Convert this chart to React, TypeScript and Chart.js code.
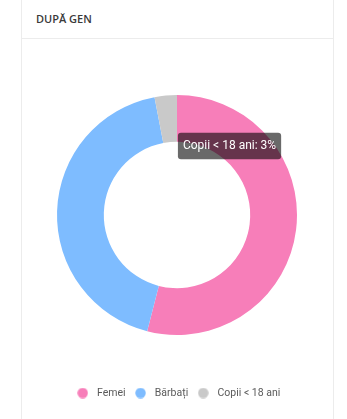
import React, { useEffect, useRef } from "react";
import { Chart, registerables, Tooltip } from "chart.js";

Chart.register(...registerables);

const categories = ["Femei", "Bărbați", "Copii < 18 ani"];
const values = [54, 43, 3];
const colors = ["#f77eb9", "#7ebcff", "#c9c9c9"];
const title = "DUPĂ GEN";
const tooltipIndex = 2;

(Tooltip.positioners as any).offsetArc = function (elements: any[]) {
  if (!elements.length) return false;
  const p = elements[0].element.tooltipPosition(true);
  return { x: p.x + 13, y: p.y + 14, xAlign: "left", yAlign: "top" };
};

function makeDot(color: string) {
  const c = document.createElement("canvas");
  c.width = 11;
  c.height = 11;
  const ctx = c.getContext("2d")!;
  ctx.fillStyle = color;
  ctx.beginPath();
  ctx.arc(5.5, 5.5, 5.2, 0, Math.PI * 2);
  ctx.fill();
  return c;
}

export default function App() {
  const ref = useRef<HTMLCanvasElement>(null);

  useEffect(() => {
    if (!ref.current) return;
    Chart.defaults.font.family = "Roboto";
    const dots = colors.map(makeDot);
    const chart = new Chart(ref.current, {
      type: "doughnut",
      data: {
        labels: categories,
        datasets: [
          {
            data: values,
            backgroundColor: colors,
            hoverBackgroundColor: colors,
            borderWidth: 0,
            hoverOffset: 0,
            offset: 0,
          },
        ],
      },
      options: {
        animation: false,
        responsive: true,
        maintainAspectRatio: false,
        cutout: "61%",
        layout: { padding: { top: 9.25, bottom: 10.75, left: 35, right: 35 } },
        events: [],
        plugins: {
          legend: {
            position: "bottom",
            labels: {
              usePointStyle: true,
              pointStyleWidth: 18,
              padding: 6,
              color: "#5a5a5a",
              font: { family: "Roboto", size: 10.5 },
              generateLabels: (ch: any) => {
                const base = (Chart as any).overrides.doughnut.plugins.legend.labels.generateLabels(ch);
                return base.map((it: any, i: number) => ({ ...it, pointStyle: dots[i] }));
              },
            },
          },
          tooltip: {
            enabled: true,
            position: "offsetArc" as any,
            backgroundColor: "rgba(0,0,0,0.59)",
            bodyColor: "#ffffff",
            bodyFont: { family: "Roboto", size: 12 },
            padding: { x: 5, y: 6 },
            cornerRadius: 3,
            caretSize: 0,
            caretPadding: 0,
            displayColors: false,
            callbacks: {
              title: () => "",
              label: (ctx: any) => `${ctx.label}: ${ctx.parsed}%`,
            },
          },
        },
      },
    });
    chart.tooltip!.setActiveElements([{ datasetIndex: 0, index: tooltipIndex }], { x: 0, y: 0 });
    chart.update();
    return () => chart.destroy();
  }, []);

  return (
    <div
      style={{
        position: "absolute",
        left: 21,
        top: -10,
        width: 313,
        height: 440,
        boxSizing: "border-box",
        border: "1px solid #ececec",
        background: "#fff",
      }}
    >
      <div
        style={{
          position: "absolute",
          left: 0,
          top: 0,
          right: 0,
          height: 47,
          borderBottom: "1px solid #ececec",
        }}
      >
        <div
          style={{
            position: "absolute",
            left: 14,
            top: 20,
            lineHeight: "16px",
            fontFamily: "'Open Sans', sans-serif",
            fontWeight: 600,
            fontSize: 11,
            color: "#3a3a3a",
          }}
        >
          {title}
        </div>
      </div>
      <div style={{ position: "absolute", left: 0, top: 48, width: 310, height: 380 }}>
        <canvas ref={ref} />
      </div>
    </div>
  );
}
